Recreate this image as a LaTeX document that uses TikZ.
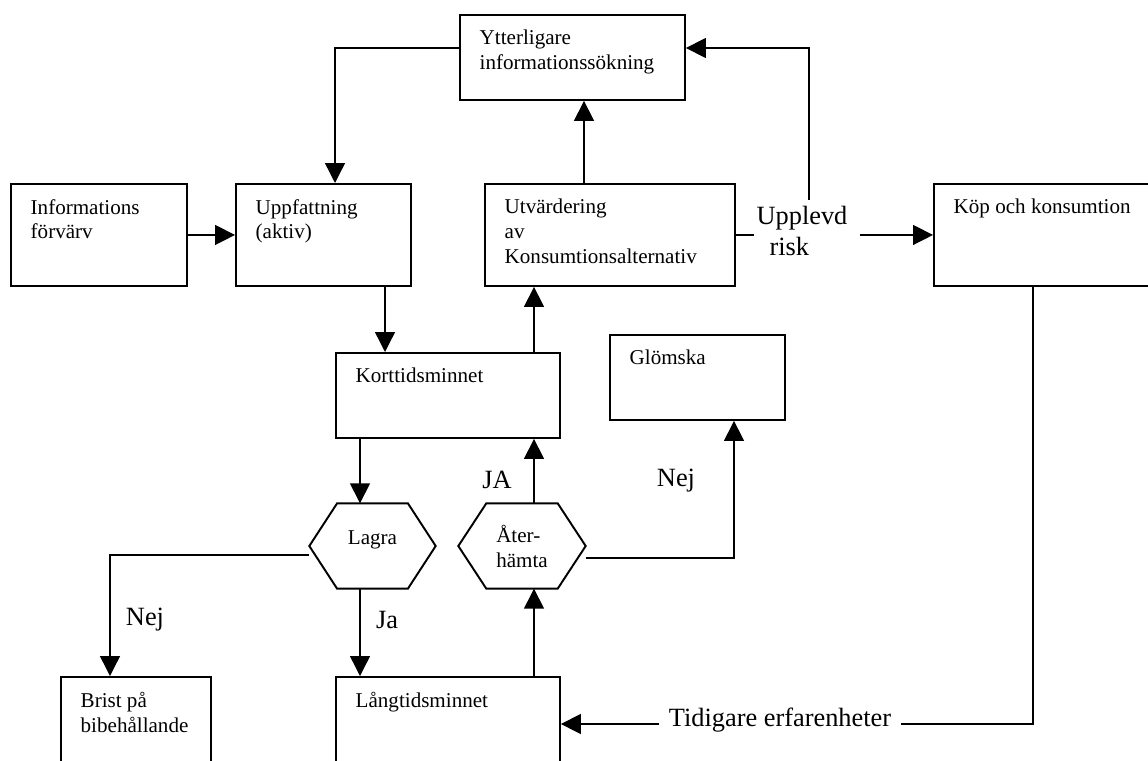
\documentclass[tikz,border=0pt]{standalone}
\usepackage{fontspec}
\setmainfont{Liberation Serif}
\usetikzlibrary{arrows.meta, positioning, calc}

\begin{document}
\begin{tikzpicture}[x=0.02cm, y=-0.02cm, thick,
    >={Triangle[length=0.4cm, width=0.4cm]},
    blk/.style={draw, line width=1.1pt, rectangle, anchor=north west, inner sep=0pt},
    blktext/.style={anchor=north west, align=left, inner sep=0pt, xshift=0.4cm, yshift=-0.31cm,
                    font=\fontsize{12}{14.2}\selectfont},
    hexa/.style={rectangle, inner sep=0pt, minimum width=2.5cm, minimum height=1.68cm,
                 align=left, font=\fontsize{12}{14.2}\selectfont},
    biglbl/.style={font=\fontsize{15}{18}\selectfont, inner sep=0pt}]

  \useasboundingbox (0,0) rectangle (1148,760);
  \clip (0,0) rectangle (1148,760);

  % boxes
  \node[blk, minimum width=4.5cm, minimum height=1.7cm,
        label={[blktext]north west:Ytterligare\\informationssökning}] (ytt) at (459,14) {};
  \node[blk, minimum width=3.52cm, minimum height=2.04cm,
        label={[blktext]north west:Informations\\förvärv}] (info) at (10,183) {};
  \node[blk, minimum width=3.5cm, minimum height=2.04cm,
        label={[blktext]north west:Uppfattning\\(aktiv)}] (upp) at (235,183) {};
  \node[blk, minimum width=5cm, minimum height=2.04cm,
        label={[blktext]north west:Utvärdering\\av\\Konsumtionsalternativ}] (utv) at (484,183) {};
  \node[blk, minimum width=5cm, minimum height=2.04cm,
        label={[blktext]north west:Köp och konsumtion}] (kop) at (933,183) {};
  \node[blk, minimum width=4.48cm, minimum height=1.7cm,
        label={[blktext]north west:Korttidsminnet}] (kort) at (335,352) {};
  \node[blk, minimum width=3.5cm, minimum height=1.7cm,
        label={[blktext]north west:Glömska}] (glom) at (609,334) {};
  \node[blk, minimum width=3cm, minimum height=2.4cm,
        label={[blktext]north west:Brist på\\bibehållande}] (brist) at (60,676) {};
  \node[blk, minimum width=4.48cm, minimum height=2.4cm,
        label={[blktext]north west:Långtidsminnet}] (lang) at (335,676) {};

  % decisions
  \node[hexa, text depth=0.32cm] (lagra) at (372.5,546) {Lagra};
  \node[hexa, minimum width=2.52cm] (ater) at (522,546) {Åter-\\hämta};
  \foreach \h in {lagra, ater}
    \draw[line width=1.1pt] (\h.west) -- ($(\h.north west)!.22!(\h.north east)$)
      -- ($(\h.north west)!.78!(\h.north east)$) -- (\h.east)
      -- ($(\h.south west)!.78!(\h.south east)$) -- ($(\h.south west)!.22!(\h.south east)$) -- cycle;

  % labels
  \node[biglbl, align=left, inner xsep=1pt, inner ysep=3pt] (risk) at (802,231)
    {Upplevd\\\hspace{0.26cm}risk};
  \node[biglbl, inner xsep=5pt] (tid) at (780,720) {Tidigare erfarenheter};
  \node[biglbl] (nejbrist) at (145,620) {Nej};
  \node[biglbl] (jalagra) at (387,620) {Ja};
  \node[biglbl] (jaater) at (497,480) {JA};
  \node[biglbl] (nejglom) at (676,481) {Nej};

  % bends and line positions
  \coordinate (b1) at (335,48);
  \coordinate (b2) at (809,48);
  \coordinate (b3) at (110,555);
  \coordinate (b4) at (734,558);
  \coordinate (b5) at (1033,724);
  \coordinate (c1) at (385,0);
  \coordinate (c2) at (360,0);
  \coordinate (c3) at (534,0);
  \coordinate (c4) at (584,0);

  \draw[->] (info) -- (upp);
  \draw[->] (ytt.west |- b1) -| (upp.north -| b1);
  \draw[->] (utv.north -| c4) -- (ytt.south -| c4);
  \draw (utv.east) -- (utv.east -| risk.west);
  \draw[->] ([xshift=0.2cm]risk.east |- kop.west) -- (kop.west);
  \draw[->] (risk.north -| b2) -- (b2) -- (ytt.east |- b2);
  \draw[->] (upp.south -| c1) -- (kort.north -| c1);
  \draw[->] (kort.north -| c3) -- (utv.south -| c3);
  \draw[->] (kort.south -| c2) -- (lagra.north -| c2);
  \draw[->] (lagra.west |- b3) -- (b3) -- (brist.north -| b3);
  \draw[->] (lagra.south -| c2) -- (lang.north -| c2);
  \draw[->] (ater.north -| c3) -- (kort.south -| c3);
  \draw[->] (lang.north -| c3) -- (ater.south -| c3);
  \draw[->] (ater.east |- b4) -- (b4) -- (glom.south -| b4);
  \draw (kop.south -| b5) -- (b5) -- (tid.east |- b5);
  \draw[->] (tid.west |- b5) -- (lang.east |- b5);
\end{tikzpicture}
\end{document}
